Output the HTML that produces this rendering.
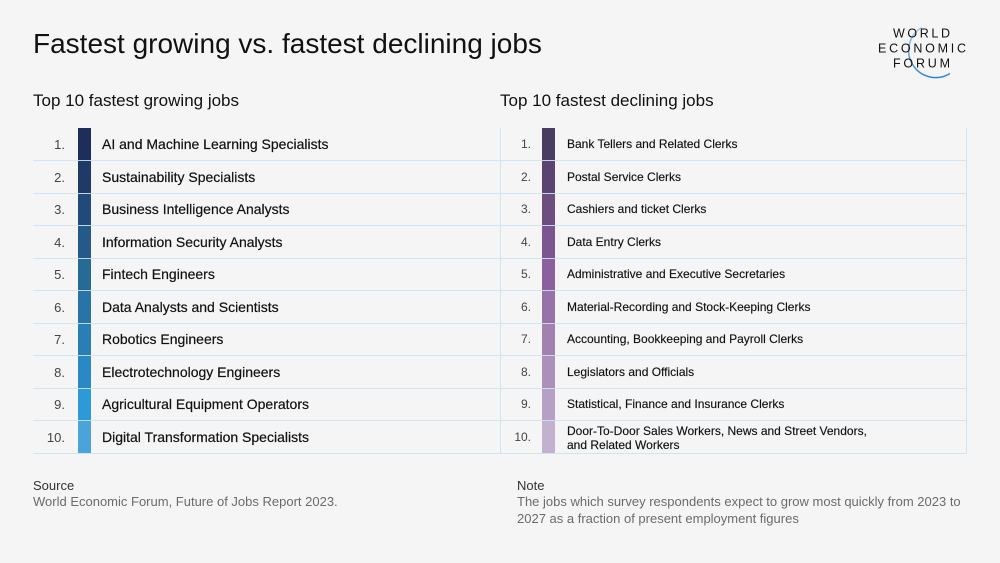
<!DOCTYPE html>
<html>
<head>
<meta charset="utf-8">
<style>
  html,body{margin:0;padding:0;}
  body{width:1000px;height:563px;background:#f5f5f5;position:relative;overflow:hidden;font-family:"Liberation Sans",Arial,sans-serif;color:#111;}
  .abs{position:absolute;white-space:nowrap;}
  .title{left:33px;top:27px;font-size:28px;line-height:34px;color:#111;}
  .sub{font-size:17px;line-height:20px;top:91px;color:#111;}
  .hl{position:absolute;height:1px;background:#cfe3f1;}
  .vl{position:absolute;width:1px;background:#cfe3f1;top:128px;height:326px;}
  .bar{position:absolute;width:13px;height:33px;}
  .num{position:absolute;text-align:right;color:#444;}
  .lnum{width:40px;left:25px;font-size:13px;line-height:33px;}
  .rnum{width:40px;left:491px;font-size:12px;line-height:33px;}
  .llab{position:absolute;left:102px;font-size:14px;line-height:33px;-webkit-text-stroke:0.2px #111;}
  .rlab{position:absolute;left:567px;font-size:12px;line-height:33px;-webkit-text-stroke:0.15px #111;}
  .foot-h{font-size:13px;line-height:16px;color:#333;}
  .foot-t{font-size:13px;line-height:16.5px;color:#6b6b6b;}
</style>
</head>
<body>
<div class="abs title">Fastest growing vs. fastest declining jobs</div>

<svg class="abs" style="left:0;top:0" width="1000" height="100">
  <defs>
    <linearGradient id="g" x1="0" y1="0" x2="0" y2="1">
      <stop offset="0" stop-color="#a9cdea"/>
      <stop offset="1" stop-color="#2f86cc"/>
    </linearGradient>
  </defs>
  <path d="M 921.5 27.5 A 27 27 0 1 0 950 73.5" fill="none" stroke="url(#g)" stroke-width="1.6"/>
  <text x="893" y="37.5" font-family="Liberation Sans, Arial, sans-serif" font-size="12.5" fill="#111" textLength="57" lengthAdjust="spacing">WORLD</text>
  <text x="878" y="52.5" font-family="Liberation Sans, Arial, sans-serif" font-size="12.5" fill="#111" textLength="88" lengthAdjust="spacing">ECONOMIC</text>
  <text x="893" y="67.5" font-family="Liberation Sans, Arial, sans-serif" font-size="12.5" fill="#111" textLength="57" lengthAdjust="spacing">FORUM</text>
</svg>

<div class="abs sub" style="left:33px;">Top 10 fastest growing jobs</div>
<div class="abs sub" style="left:500px;">Top 10 fastest declining jobs</div>

<!-- bars left -->
<div class="bar" style="left:78px;top:128px;background:#1f2d5a"></div>
<div class="bar" style="left:78px;top:161px;background:#1f3a66"></div>
<div class="bar" style="left:78px;top:193px;background:#214a78"></div>
<div class="bar" style="left:78px;top:226px;background:#235a87"></div>
<div class="bar" style="left:78px;top:258px;background:#266a96"></div>
<div class="bar" style="left:78px;top:291px;background:#2974a6"></div>
<div class="bar" style="left:78px;top:323px;background:#2a7eb6"></div>
<div class="bar" style="left:78px;top:356px;background:#2a89c4"></div>
<div class="bar" style="left:78px;top:388px;background:#2b9ad6"></div>
<div class="bar" style="left:78px;top:421px;height:33px;background:#4aa4d9"></div>

<!-- bars right -->
<div class="bar" style="left:542px;top:128px;background:#4a3d62"></div>
<div class="bar" style="left:542px;top:161px;background:#5a4472"></div>
<div class="bar" style="left:542px;top:193px;background:#6c4f80"></div>
<div class="bar" style="left:542px;top:226px;background:#7b5690"></div>
<div class="bar" style="left:542px;top:258px;background:#8a619e"></div>
<div class="bar" style="left:542px;top:291px;background:#9772a8"></div>
<div class="bar" style="left:542px;top:323px;background:#a281b0"></div>
<div class="bar" style="left:542px;top:356px;background:#ab90b9"></div>
<div class="bar" style="left:542px;top:388px;background:#b7a0c6"></div>
<div class="bar" style="left:542px;top:421px;height:33px;background:#c3b2cf"></div>

<!-- lines -->
<div class="hl" style="left:33px;width:934px;top:160px;opacity:.9"></div>
<div class="hl" style="left:33px;width:934px;top:193px;opacity:.9"></div>
<div class="hl" style="left:33px;width:934px;top:225px;opacity:.9"></div>
<div class="hl" style="left:33px;width:934px;top:258px;opacity:.9"></div>
<div class="hl" style="left:33px;width:934px;top:290px;opacity:.9"></div>
<div class="hl" style="left:33px;width:934px;top:323px;opacity:.9"></div>
<div class="hl" style="left:33px;width:934px;top:355px;opacity:.9"></div>
<div class="hl" style="left:33px;width:934px;top:388px;opacity:.9"></div>
<div class="hl" style="left:33px;width:934px;top:420px;opacity:.9"></div>
<div class="hl" style="left:33px;width:934px;top:453px;"></div>
<div class="vl" style="left:500px;"></div>
<div class="vl" style="left:966px;"></div>

<!-- left numbers and labels -->
<div class="num lnum" style="top:128px">1.</div>
<div class="num lnum" style="top:161px">2.</div>
<div class="num lnum" style="top:193px">3.</div>
<div class="num lnum" style="top:226px">4.</div>
<div class="num lnum" style="top:258px">5.</div>
<div class="num lnum" style="top:291px">6.</div>
<div class="num lnum" style="top:323px">7.</div>
<div class="num lnum" style="top:356px">8.</div>
<div class="num lnum" style="top:388px">9.</div>
<div class="num lnum" style="top:421px">10.</div>

<div class="llab" style="top:128px">AI and Machine Learning Specialists</div>
<div class="llab" style="top:161px">Sustainability Specialists</div>
<div class="llab" style="top:193px">Business Intelligence Analysts</div>
<div class="llab" style="top:226px">Information Security Analysts</div>
<div class="llab" style="top:258px">Fintech Engineers</div>
<div class="llab" style="top:291px">Data Analysts and Scientists</div>
<div class="llab" style="top:323px">Robotics Engineers</div>
<div class="llab" style="top:356px">Electrotechnology Engineers</div>
<div class="llab" style="top:388px">Agricultural Equipment Operators</div>
<div class="llab" style="top:421px">Digital Transformation Specialists</div>

<!-- right numbers and labels -->
<div class="num rnum" style="top:128px">1.</div>
<div class="num rnum" style="top:161px">2.</div>
<div class="num rnum" style="top:193px">3.</div>
<div class="num rnum" style="top:226px">4.</div>
<div class="num rnum" style="top:258px">5.</div>
<div class="num rnum" style="top:291px">6.</div>
<div class="num rnum" style="top:323px">7.</div>
<div class="num rnum" style="top:356px">8.</div>
<div class="num rnum" style="top:388px">9.</div>
<div class="num rnum" style="top:421px">10.</div>

<div class="rlab" style="top:128px">Bank Tellers and Related Clerks</div>
<div class="rlab" style="top:161px">Postal Service Clerks</div>
<div class="rlab" style="top:193px">Cashiers and ticket Clerks</div>
<div class="rlab" style="top:226px">Data Entry Clerks</div>
<div class="rlab" style="top:258px">Administrative and Executive Secretaries</div>
<div class="rlab" style="top:291px">Material-Recording and Stock-Keeping Clerks</div>
<div class="rlab" style="top:323px">Accounting, Bookkeeping and Payroll Clerks</div>
<div class="rlab" style="top:356px">Legislators and Officials</div>
<div class="rlab" style="top:388px">Statistical, Finance and Insurance Clerks</div>
<div class="rlab" style="top:424px;line-height:14px;">Door-To-Door Sales Workers, News and Street Vendors,<br>and Related Workers</div>

<!-- footer -->
<div class="abs foot-h" style="left:33px;top:478px;">Source</div>
<div class="abs foot-t" style="left:33px;top:494px;">World Economic Forum, Future of Jobs Report 2023.</div>
<div class="abs foot-h" style="left:517px;top:478px;">Note</div>
<div class="abs foot-t" style="left:517px;top:494px;">The jobs which survey respondents expect to grow most quickly from 2023 to<br>2027 as a fraction of present employment figures</div>
</body>
</html>
